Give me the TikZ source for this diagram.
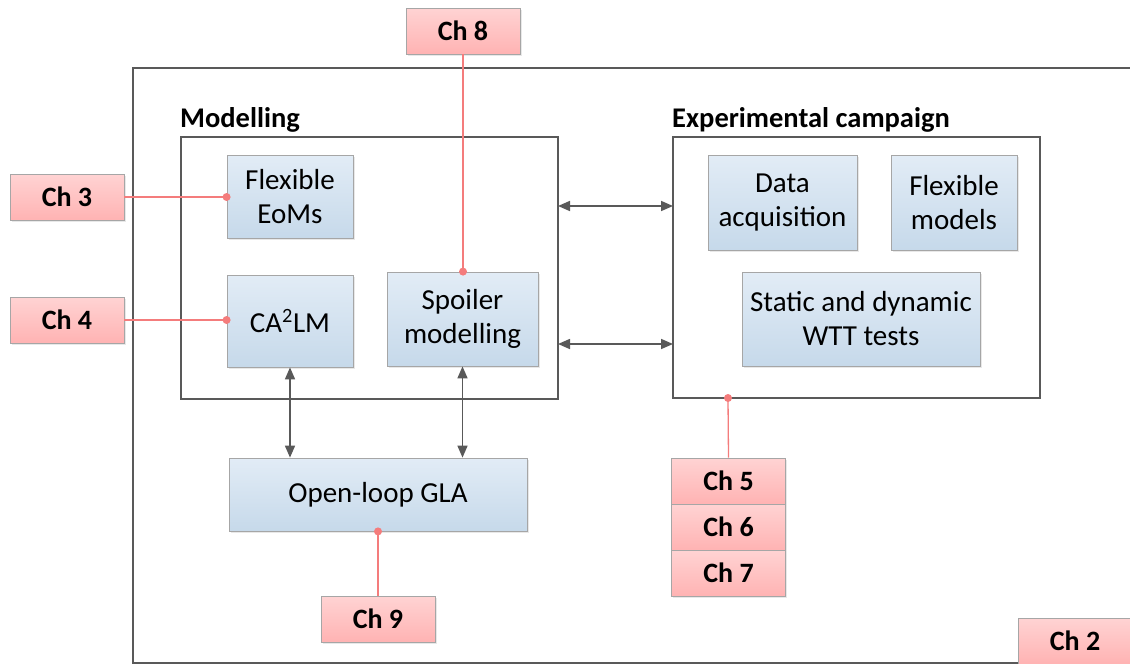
\documentclass[tikz,border=0pt]{standalone}
\usepackage{fontspec}
\setmainfont{Carlito}
\usetikzlibrary{arrows.meta,shadows}
\definecolor{frame}{HTML}{595959}
\definecolor{blueTop}{HTML}{E2ECF6}
\definecolor{blueBot}{HTML}{C6D9EA}
\definecolor{pinkTop}{HTML}{FFD3D3}
\definecolor{pinkBot}{HTML}{FFB3B3}
\definecolor{boxEdge}{HTML}{A6A6A6}
\definecolor{link}{HTML}{F47C7C}
\definecolor{arrowc}{HTML}{595959}
\tikzset{
  bluebox/.style={draw=boxEdge, line width=0.8pt, top color=blueTop, bottom color=blueBot,
    align=center, font=\fontsize{29}{34}\selectfont, inner sep=0pt,
    drop shadow={opacity=0.18, shadow xshift=1.5pt, shadow yshift=-1.5pt}},
  chbox/.style={draw=boxEdge, line width=0.8pt, top color=pinkTop, bottom color=pinkBot,
    font=\fontsize{28}{30}\selectfont\bfseries, inner sep=0pt,
    minimum width=114pt, minimum height=46pt,
    drop shadow={opacity=0.18, shadow xshift=1.5pt, shadow yshift=-1.5pt}},
  group/.style={draw=frame, line width=1.8pt},
  grouplabel/.style={font=\fontsize{28.5}{32}\selectfont\bfseries, anchor=base west, inner sep=0pt},
  redlink/.style={draw=link, line width=1.3pt},
  dot/.style={circle, fill=link, inner sep=0pt, minimum size=8pt},
  twoway/.style={draw=arrowc, line width=1.6pt, {Triangle[length=12pt,width=10pt]}-{Triangle[length=12pt,width=10pt]}}
}
\begin{document}
\begin{tikzpicture}[x=1pt,y=-1pt]
\useasboundingbox (0,0) rectangle (1130,664);
\clip (0,0) rectangle (1130,664);
\fill[white] (0,0) rectangle (1130,664);

% outer frame
\draw[group] (133,68) rectangle (1150,663);

% group frames
\draw[group] (181,137) rectangle (558,399);
\node[grouplabel] (modlab) at (180,127) {Modelling};
\draw[group] (673,137) rectangle (1040,398);
\node[grouplabel] (explab) at (672,127) {Experimental campaign};
\coordinate (modR1) at (558,206);
\coordinate (modR2) at (558,344);
\coordinate (expL1) at (673,206);
\coordinate (expL2) at (673,344);
\coordinate (expB) at (728,398);

% modelling blocks
\node[bluebox, minimum width=126pt, minimum height=83pt] (eom) at (290,197) {Flexible\\EoMs};
\node[bluebox, minimum width=126pt, minimum height=92pt] (calm) at (290,321) {CA\textsuperscript{2}LM};
\node[bluebox, minimum width=151pt, minimum height=94pt] (spoiler) at (462.5,319) {Spoiler\\modelling};
\node[bluebox, minimum width=298pt, minimum height=73pt] (gla) at (378,494.5) {Open-loop GLA};

% experimental blocks
\node[bluebox, minimum width=149pt, minimum height=95pt] (daq) at (782.5,202.5) {Data\\acquisition};
\node[bluebox, minimum width=126pt, minimum height=95pt] (flexm) at (954,202.5) {Flexible\\models};
\node[bluebox, minimum width=238pt, minimum height=94pt] (wtt) at (861,319) {Static and dynamic\\WTT tests};

% chapter tags
\node[chbox] (ch3) at (67,197) {Ch 3};
\node[chbox] (ch4) at (67,320) {Ch 4};
\node[chbox] (ch8) at (463,31) {Ch 8};
\node[chbox] (ch5) at (728.5,481) {Ch 5};
\node[chbox] (ch6) at (728.5,527) {Ch 6};
\node[chbox] (ch7) at (728.5,573) {Ch 7};
\node[chbox] (ch9) at (378,619) {Ch 9};
\node[chbox] (ch2) at (1075,641) {Ch 2};

% two-way links
\draw[twoway] (modR1) -- (expL1);
\draw[twoway] (modR2) -- (expL2);
\draw[twoway] (calm.south) -- (calm.south |- gla.north);
\draw[twoway] (spoiler.south) -- (spoiler.south |- gla.north);

% chapter links
\draw[redlink] (ch3.east) -- (ch3.east -| eom.west) node[dot] {};
\draw[redlink] (ch4.east) -- (ch4.east -| calm.west) node[dot] {};
\draw[redlink] (ch8.south) -- (ch8.south |- spoiler.north) node[dot] {};
\draw[redlink] (ch5.north) -- (expB) node[dot] {};
\draw[redlink] (ch9.north) -- (gla.south) node[dot] {};
\end{tikzpicture}
\end{document}
